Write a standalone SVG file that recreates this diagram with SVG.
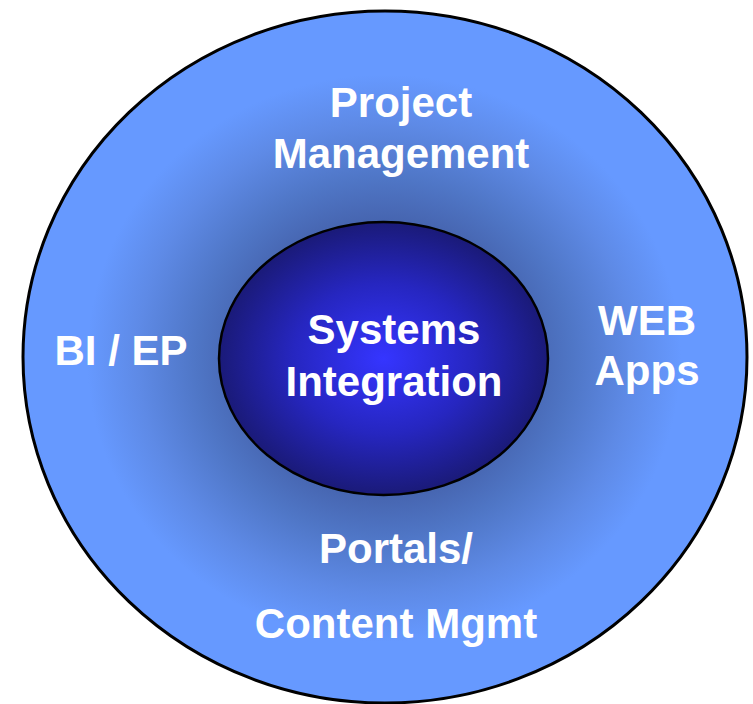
<svg xmlns="http://www.w3.org/2000/svg" width="753" height="704" viewBox="0 0 753 704">
  <defs>
    <radialGradient id="outerGrad" cx="384" cy="358" r="362" gradientUnits="userSpaceOnUse" gradientTransform="translate(384 358) scale(1 0.955) translate(-384 -358)">
      <stop offset="0" stop-color="#1f3070"/>
      <stop offset="0.42" stop-color="#4868b4"/>
      <stop offset="0.52" stop-color="#4f76c6"/>
      <stop offset="0.68" stop-color="#5e8ae6"/>
      <stop offset="0.82" stop-color="#6699ff"/>
      <stop offset="1" stop-color="#6699ff"/>
    </radialGradient>
    <radialGradient id="innerGrad" cx="0.5" cy="0.5" r="0.5">
      <stop offset="0" stop-color="#3535ff"/>
      <stop offset="0.55" stop-color="#2626c0"/>
      <stop offset="1" stop-color="#1a1a78"/>
    </radialGradient>
    <style>
      .lbl { font-family: "Liberation Sans", Arial, sans-serif; font-weight: bold; font-size: 42px; fill: #ffffff; text-anchor: middle; }
    </style>
  </defs>
  <g id="outer">
    <ellipse cx="385" cy="357" rx="362" ry="346" fill="url(#outerGrad)" stroke="#000000" stroke-width="3"/>
    <text class="lbl" x="401" y="117">Project</text>
    <text class="lbl" x="401" y="168">Management</text>
    <text class="lbl" x="121" y="365">BI / EP</text>
    <text class="lbl" x="647" y="335">WEB</text>
    <text class="lbl" x="647" y="385">Apps</text>
    <text class="lbl" x="396" y="563">Portals/</text>
    <text class="lbl" x="396" y="638">Content Mgmt</text>
  </g>
  <g id="inner">
    <ellipse cx="383.5" cy="358.5" rx="164.5" ry="136.5" fill="url(#innerGrad)" stroke="#000000" stroke-width="2.5"/>
    <text class="lbl" x="394" y="344">Systems</text>
    <text class="lbl" x="394" y="396">Integration</text>
  </g>
  <g id="connectors"/>
</svg>
